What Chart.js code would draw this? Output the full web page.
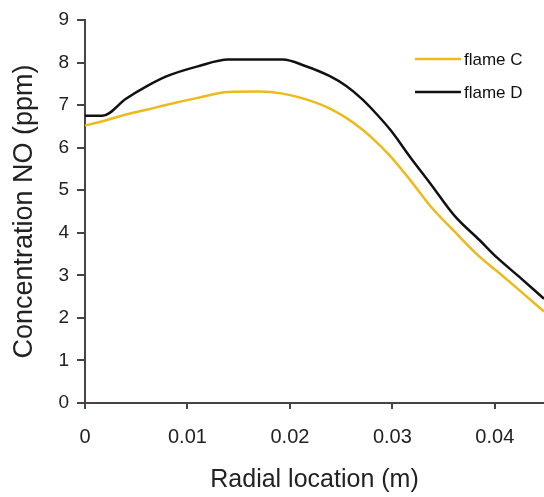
<!DOCTYPE html>
<html lang="en">
<head>
  <meta charset="UTF-8">
  <title>NO concentration vs radial location</title>
  <script src="https://cdn.jsdelivr.net/npm/chart.js"></script>
  <style>
    html, body { margin: 0; padding: 0; background: #fff; }
    #wrap { width: 544px; height: 497px; }
  </style>
</head>
<body>
<div id="wrap"><canvas id="noChart" width="544" height="497"></canvas></div>

<script>
  const radialPos = [0, 0.0017, 0.004, 0.006, 0.008, 0.011, 0.014, 0.017, 0.0193, 0.0215, 0.0239,
                     0.0255, 0.0271, 0.0285, 0.0298, 0.0318, 0.0337, 0.0361, 0.0385, 0.0402, 0.0425, 0.0448];
  const flameC = [6.52, 6.62, 6.78, 6.89, 7.01, 7.17, 7.31, 7.32, 7.27, 7.14, 6.92,
                  6.70, 6.42, 6.12, 5.80, 5.22, 4.63, 4.02, 3.44, 3.10, 2.63, 2.15];
  const flameD = [6.75, 6.75, 7.15, 7.44, 7.68, 7.91, 8.07, 8.07, 8.07, 7.92, 7.68,
                  7.45, 7.13, 6.78, 6.42, 5.76, 5.16, 4.39, 3.83, 3.42, 2.94, 2.45];
  const xTicks = [0, 0.01, 0.02, 0.03, 0.04];
  const yTicks = [0, 1, 2, 3, 4, 5, 6, 7, 8, 9];

  const axisColor = '#4a4242';
  const textColor = '#222';
  const fontFamily = '"Liberation Sans", Arial, sans-serif';

  const toPoints = vals => vals.map((v, i) => ({ x: radialPos[i], y: v }));

  // legend drawn inside the plot, top right
  const insideLegend = {
    id: 'insideLegend',
    afterDatasetsDraw(chart) {
      const ctx = chart.ctx;
      ctx.save();
      ctx.font = '17px ' + fontFamily;
      ctx.textBaseline = 'middle';
      chart.data.datasets.forEach((ds, i) => {
        const y = 59 + i * 33;
        ctx.strokeStyle = ds.borderColor;
        ctx.lineWidth = 2.5;
        ctx.beginPath();
        ctx.moveTo(415, y);
        ctx.lineTo(461, y);
        ctx.stroke();
        ctx.fillStyle = '#111';
        ctx.fillText(ds.label, 464, y + 1);
      });
      ctx.restore();
    }
  };

  new Chart(document.getElementById('noChart'), {
    type: 'line',
    data: {
      datasets: [
        { label: 'flame C', data: toPoints(flameC), borderColor: '#edba1c', borderWidth: 2.5 },
        { label: 'flame D', data: toPoints(flameD), borderColor: '#111111', borderWidth: 2.5 }
      ]
    },
    options: {
      responsive: false,
      animation: false,
      layout: { padding: { top: 20, right: 0, left: 0, bottom: 0 } },
      elements: { point: { radius: 0 }, line: { cubicInterpolationMode: 'monotone' } },
      plugins: { legend: { display: false }, tooltip: { enabled: false } },
      scales: {
        x: {
          type: 'linear',
          min: 0,
          max: 0.0448,
          afterBuildTicks: s => { s.ticks = xTicks.map(v => ({ value: v })); },
          afterFit: s => { s.height = 94; },
          grid: { drawOnChartArea: false, drawTicks: true, tickLength: 6, color: axisColor, lineWidth: 2 },
          border: { color: axisColor, width: 2 },
          ticks: { color: textColor, font: { family: fontFamily, size: 20 }, padding: 16, maxRotation: 0,
                   callback: v => String(v) },
          title: { display: true, text: 'Radial location (m)', color: textColor,
                   font: { family: fontFamily, size: 25 }, padding: { top: 0, bottom: 2 } }
        },
        y: {
          min: 0,
          max: 9,
          afterBuildTicks: s => { s.ticks = yTicks.map(v => ({ value: v })); },
          afterFit: s => { s.width = 85; },
          grid: { drawOnChartArea: false, drawTicks: true, tickLength: 8, color: axisColor, lineWidth: 2 },
          border: { color: axisColor, width: 2 },
          ticks: { color: textColor, font: { family: fontFamily, size: 19 }, padding: 8 },
          title: { display: true, text: 'Concentration NO (ppm)', color: textColor,
                   font: { family: fontFamily, size: 27 }, padding: { top: 8, bottom: 0 } }
        }
      }
    },
    plugins: [insideLegend]
  });
</script>
</body>
</html>
